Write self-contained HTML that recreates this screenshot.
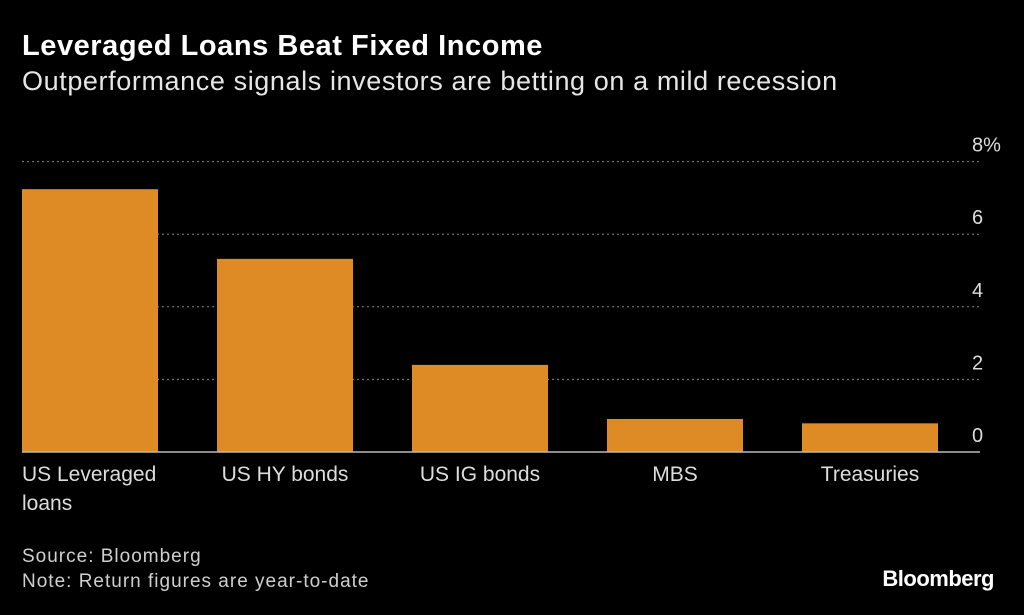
<!DOCTYPE html>
<html><head><meta charset="utf-8"><style>
body{margin:0;background:#000;width:1024px;height:615px;overflow:hidden;font-family:"Liberation Sans",sans-serif;color:#fff}
.t{position:absolute;left:22px;top:30px;font-size:29px;font-weight:bold;letter-spacing:0.55px}
.s{position:absolute;left:22px;top:66px;font-size:27px;color:#e6e6e6;letter-spacing:0.6px}
.f{position:absolute;left:22px;font-size:19px;color:#cfcfcf;letter-spacing:1px}
.b{position:absolute;right:30px;top:566px;font-size:22px;font-weight:bold;letter-spacing:-0.5px}
</style></head><body>
<div class="t">Leveraged Loans Beat Fixed Income</div>
<div class="s">Outperformance signals investors are betting on a mild recession</div>
<svg id="c" width="1024" height="615" style="position:absolute;left:0;top:0"></svg>
<div class="f" style="top:546px">Source: Bloomberg</div>
<div class="f" style="top:571px">Note: Return figures are year-to-date</div>
<div class="b">Bloomberg</div>
<script>
const categories=[["US Leveraged","loans"],["US HY bonds"],["US IG bonds"],["MBS"],["Treasuries"]];
const values=[7.24,5.32,2.4,0.91,0.79];
const ticks=[0,2,4,6,8];
const tickLabels=["0","2","4","6","8%"];
const svg=document.getElementById('c');const NS='http://www.w3.org/2000/svg';
const y0=452,unit=36.3;const y=v=>y0-v*unit;
const x=i=>22+i*195;const bw=136;
function mk(t,a){const e=document.createElementNS(NS,t);for(const k in a)e.setAttribute(k,a[k]);svg.appendChild(e);return e;}
ticks.forEach((t,i)=>{
 if(t>0){const l=mk('line',{x1:22,x2:980,y1:y(t),y2:y(t),stroke:'#888','stroke-width':1,'stroke-dasharray':'2,3'});
 
 }
 const tx=mk('text',{x:972,y:y(t)-10,fill:'#ddd','font-size':20,'font-family':'Liberation Sans, sans-serif'});
 tx.textContent=tickLabels[i];
 
 
});
values.forEach((v,i)=>{
 const r=mk('rect',{x:x(i),y:y(v),width:bw,height:v*unit,fill:'#df8b25'});
 
 
 categories[i].forEach((s,j)=>{
  const t=mk('text',{x:x(i)+(i==0?0:bw/2),y:481+j*29,fill:'#ddd','font-size':21,'text-anchor':i==0?'start':'middle','font-family':'Liberation Sans, sans-serif'});
  t.textContent=s;
  
  
 });
});
const b=mk('line',{x1:22,x2:980,y1:y0,y2:y0,stroke:'#bbb','stroke-width':1.5});


</script>
</body></html>
